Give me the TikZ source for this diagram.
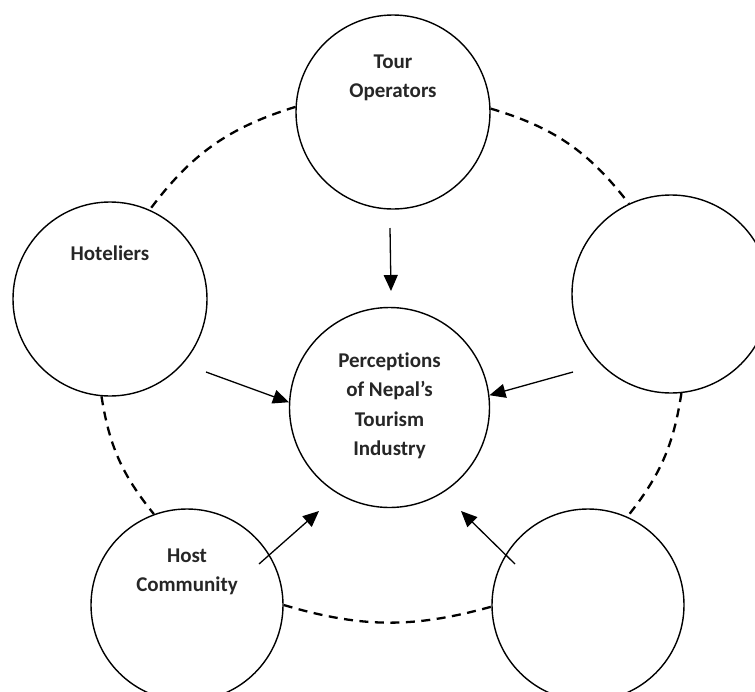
\documentclass[tikz,border=0pt]{standalone}
\usepackage{fontspec}
\setmainfont{Carlito}[Ligatures=NoCommon]
\usetikzlibrary{arrows.meta}
\tikzset{
  ring/.style={circle, draw=black, line width=1.4pt, inner sep=0pt, minimum size=#1},
  lbl/.style={font=\bfseries\fontsize{21}{29.5}\selectfont, text=black!85, align=center, inner sep=0pt},
  link/.style={draw=black, line width=2.3pt, dash pattern=on 9pt off 6.5pt},
  infl/.style={draw=black, line width=1.3pt, -{Triangle[length=16pt,width=14pt]}}
}
\begin{document}
\begin{tikzpicture}[x=1pt,y=-1pt]
\useasboundingbox (0,0) rectangle (755,691);
% circles
\node[ring=194pt] (top) at (393,112) {};
\node[ring=194pt] (hot) at (110,299) {};
\node[ring=198pt] (rgt) at (671,294) {};
\node[ring=192pt] (host) at (187,605) {};
\node[ring=192pt] (br) at (588,605) {};
\node[ring=200pt] (c) at (389.5,407.5) {};
% texts
\node[lbl] (ttop) at (393,78) {Tour\\Operators};
\node[lbl] (thot) at (110,253) {Hoteliers};
\node[lbl] (thost) at (187,572) {Host\\Community};
\node[lbl] (tc) at (389.5,406) {Perceptions\\of Nepal’s\\Tourism\\Industry};
% dashed links
\draw[link] (top.177.7) to[bend right=18] (hot.66);
\draw[link] (top.2.4) to[bend left=18] (rgt.115);
\draw[link] (hot.265) to[bend right=15] (host.110);
\draw[link] (rgt.276) to[bend left=15] (br.66);
\draw[link] (host.0) to[bend right=16] (br.181);
% arrows
\coordinate (a1) at (390,228);
\coordinate (t1) at (391,291);
\coordinate (a2) at (206,372);
\coordinate (a3) at (573,372);
\coordinate (a4) at (259,564);
\coordinate (t4) at (319,511);
\coordinate (a5) at (515,564);
\coordinate (t5) at (461,511);
\draw[infl] (a1) -- (t1);
\draw[infl] (a2) -- (c.177);
\draw[infl] (a3) -- (c.7);
\draw[infl] (a4) -- (t4);
\draw[infl] (a5) -- (t5);
\end{tikzpicture}
\end{document}
